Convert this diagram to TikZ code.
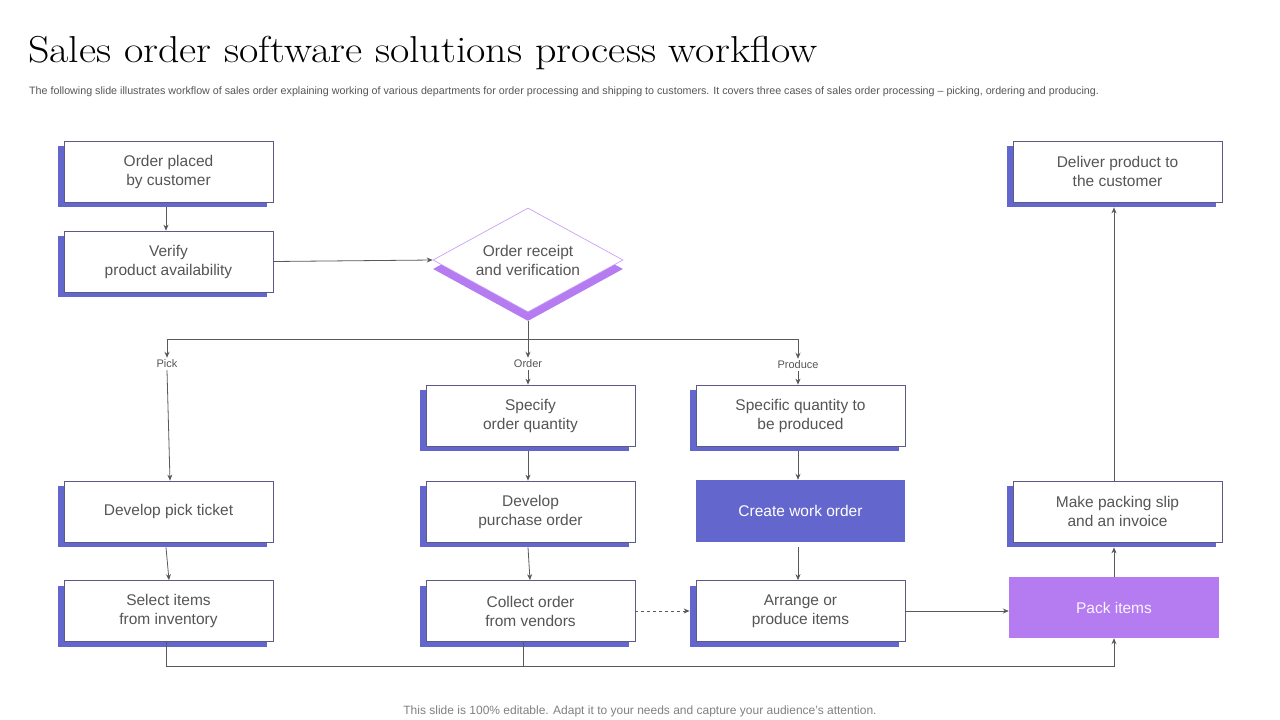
\documentclass[tikz,border=0pt]{standalone}
\usepackage{fontspec}
\setsansfont{Liberation Sans}
\newfontfamily\headfont[FakeStretch=1.12]{Latin Modern Roman}
\usetikzlibrary{shapes.geometric,shadows,arrows.meta,positioning}

\definecolor{boxblue}{HTML}{6366CC}
\definecolor{boxpurple}{HTML}{B57CF2}
\definecolor{edgec}{HTML}{5B5B86}
\definecolor{txtc}{HTML}{555555}
\definecolor{linec}{HTML}{595959}

\tikzset{
  stepbox/.style={draw=edgec, line width=0.7pt, fill=white, minimum width=209pt,
    minimum height=61pt, align=center, text=txtc, inner sep=2pt,
    font=\sffamily\fontsize{15.5}{19}\selectfont,
    drop shadow={shadow xshift=-6pt, shadow yshift=-5pt, fill=boxblue, opacity=1}},
  fillbox/.style={minimum width=209pt, minimum height=62pt, align=center,
    font=\sffamily\fontsize{15.5}{19}\selectfont},
  branch/.style={text=txtc, font=\sffamily\fontsize{11}{13}\selectfont, inner sep=2pt},
  arr/.style={draw=linec, line width=0.8pt, -{Stealth[length=6pt,width=5pt]}},
  link/.style={draw=linec, line width=0.8pt}
}

\begin{document}
\begin{tikzpicture}[x=1pt, y=-1pt]
		\useasboundingbox (0,0) rectangle (1280,720);
		% heading
		\node (title) [anchor=base west, inner sep=0] at (28,62)
		{\headfont\fontsize{37.5}{42}\selectfont Sales order software solutions process workflow};
		\node (sub) [anchor=base west, inner sep=0, text=txtc] at (29,94)
		{\sffamily\fontsize{10.7}{12}\selectfont The following slide illustrates workflow of sales order explaining working of various departments for order processing and shipping to customers. It covers three cases of sales order processing -- picking, ordering and producing.};
		% first column and decision
		\node (placed) [stepbox] at (168.5,171.5) {Order placed\\by customer};
		\node (verify) [stepbox] at (168.5,261.5) {Verify\\product availability};
		\node (receipt) [diamond, aspect=1.83, draw=boxpurple!80, line width=0.6pt, fill=white,
			minimum width=190pt, minimum height=104pt, inner sep=0, text=txtc,
			align=center, font=\sffamily\fontsize{15.5}{19}\selectfont,
			drop shadow={shadow xshift=0pt, shadow yshift=-9pt, fill=boxpurple, opacity=1}]
			at (528,260) {Order receipt\\and verification};
		\coordinate (split) at (528,339);
		\node (pick) [branch] at (167,364) {Pick};
		\node (order) [branch] at (528,364) {Order};
		\node (produce) [branch] at (798,365) {Produce};
		% three cases
		\node (specify) [stepbox] at (530.5,415.5) {Specify\\order quantity};
		\node (quantity) [stepbox] at (800.5,415.5) {Specific quantity  to\\be produced};
		\node (ticket) [stepbox] at (168.5,511.5) {Develop pick ticket};
		\node (purchase) [stepbox] at (530.5,511.5) {Develop\\purchase order};
		\node (work) [fillbox, fill=boxblue, text=white] at (800.5,511) {Create work order};
		\node (select) [stepbox] at (168.5,611) {Select items\\from inventory};
		\node (collect) [stepbox] at (530.5,611) {Collect order\\from vendors};
		\node (arrange) [stepbox] at (800.5,611) {Arrange or\\produce items};
		% shipping
		\node (deliver) [stepbox] at (1117.5,171.5) {Deliver product to\\the customer};
		\node (slip) [stepbox] at (1117.5,511.5) {Make packing slip\\and an invoice};
		\node (pack) [fillbox, fill=boxpurple, text=white!92!boxpurple,
			minimum width=210pt, minimum height=61pt] at (1114,607.5) {Pack items};
		% connectors
		\draw[arr] ([xshift=-2.5pt,yshift=-5pt]placed.south) -- ([xshift=-2.5pt]verify.north);
		\draw[arr] (verify.east) -- (receipt.west);
		\draw[link] ([yshift=-9pt]receipt.south) -- (split);
		\draw[arr] (split) -| (pick.north);
		\draw[arr] (split) -- (order.north);
		\draw[arr] (split) -| (produce.north);
		\draw[arr] (pick.south) -- ([xshift=1.5pt]ticket.north);
		\draw[arr] (order.south) -- ([xshift=-2.5pt]specify.north);
		\draw[arr] (produce.south) -- ([xshift=-2.5pt]quantity.north);
		\draw[arr] ([xshift=-2.5pt,yshift=-5pt]ticket.south) -- ([xshift=0.5pt]select.north);
		\draw[arr] ([xshift=-2.5pt,yshift=-5pt]specify.south) -- ([xshift=-2.5pt]purchase.north);
		\draw[arr] ([xshift=-2.5pt,yshift=-5pt]purchase.south) -- ([xshift=-0.5pt]collect.north);
		\draw[arr] ([xshift=-2.5pt,yshift=-5pt]quantity.south) -- ([xshift=-2.5pt]work.north);
		\draw[arr] ([xshift=-2.5pt,yshift=-5pt]work.south) -- ([xshift=-2.5pt]arrange.north);
		\draw[arr, dashed] (collect.east) -- ([xshift=-6pt]arrange.west);
		\draw[arr] (arrange.east) -- (arrange.east -| pack.west);
		\draw[arr] (pack.north) -- ([xshift=-3.5pt,yshift=-5pt]slip.south);
		\draw[arr] ([xshift=-3.5pt]slip.north) -- ([xshift=-3.5pt,yshift=-5pt]deliver.south);
		\draw[arr] ([xshift=-2.5pt]select.south) -- ++(0,25) -| (pack.south);
		\draw[link] ([xshift=-7.5pt]collect.south) -- ++(0,25);
		% footer
		\node (foot) [text=gray, font=\sffamily\fontsize{12}{14}\selectfont] at (640,711)
		{This slide is 100\% editable. Adapt it to your needs and capture your audience's attention.};
\end{tikzpicture}
\end{document}
